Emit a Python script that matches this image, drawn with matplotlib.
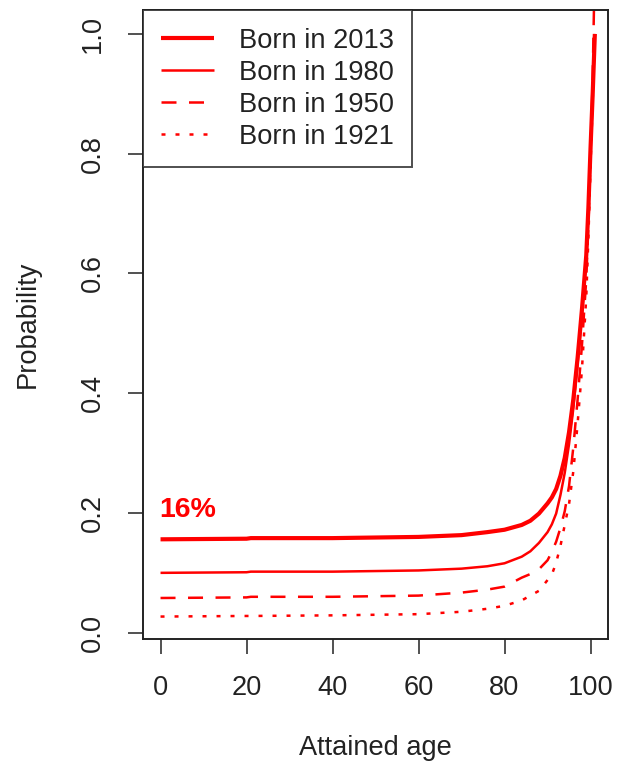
import matplotlib
matplotlib.use('Agg')
import matplotlib.pyplot as plt

plt.rcParams['font.family'] = ['Liberation Sans', 'DejaVu Sans']

# Attained age grid and probability by birth cohort
ages = [0, 20, 21, 40, 50, 60, 70, 76, 80, 84, 86, 88, 90, 91, 92, 93,
        94, 95, 96, 97, 98, 99, 99.5, 100, 100.5, 101]
born_2013 = [0.156, 0.157, 0.158, 0.158, 0.159, 0.160, 0.163, 0.168, 0.172, 0.180,
             0.187, 0.199, 0.216, 0.226, 0.240, 0.262, 0.292, 0.335, 0.390, 0.46,
             0.54, 0.63, 0.71, 0.81, 0.90, 1.00]
born_1980 = [0.100, 0.101, 0.102, 0.102, 0.103, 0.104, 0.107, 0.111, 0.116, 0.127,
             0.136, 0.150, 0.168, 0.181, 0.199, 0.230, 0.267, 0.315, 0.375, 0.45,
             0.53, 0.62, 0.70, 0.80, 0.90, 1.00]
born_1950 = [0.058, 0.059, 0.060, 0.060, 0.061, 0.062, 0.067, 0.072, 0.077, 0.092,
             0.098, 0.106, 0.121, 0.135, 0.152, 0.175, 0.203, 0.245, 0.31, 0.39,
             0.48, 0.59, 0.68, 0.79, 0.93, 1.12]
born_1921 = [0.027, 0.028, 0.028, 0.029, 0.030, 0.031, 0.035, 0.040, 0.045, 0.054,
             0.062, 0.070, 0.088, 0.097, 0.117, 0.145, 0.180, 0.215, 0.27, 0.35,
             0.44, 0.56, 0.66, 0.78, 0.89, 1.00]

x_ticks = [0, 20, 40, 60, 80, 100]
y_ticks = [0.0, 0.2, 0.4, 0.6, 0.8, 1.0]

fig = plt.figure(figsize=(6.17, 7.62), dpi=100)
ax = fig.add_axes([0.2323, 0.1614, 0.7527, 0.8255])

ax.plot(ages, born_2013, color='red', lw=3.0, solid_capstyle='butt', label='Born in 2013')
ax.plot(ages, born_1980, color='red', lw=1.8, solid_capstyle='butt', label='Born in 1980')
ax.plot(ages, born_1950, color='red', lw=1.8, dashes=(6, 5), dash_capstyle='butt',
        label='Born in 1950')
ax.plot(ages, born_1921, color='red', lw=1.8, dashes=(1.6, 4), dash_capstyle='butt',
        label='Born in 1921')

# share at birth for the youngest cohort
ax.text(-0.3, 0.193, f"{born_2013[0] * 100:.0f}%", color='red', fontsize=20.5,
        fontweight='bold', ha='left', va='baseline')

ax.set_xlim(-4.0, 104.0)
ax.set_ylim(-0.0105, 1.040)
ax.set_xticks(x_ticks)
ax.set_yticks(y_ticks)
ax.set_xticklabels([str(t) for t in x_ticks])
ax.set_yticklabels([f"{t:.1f}" for t in y_ticks], rotation=90, va='center')

fs = 19.6
ax.tick_params(axis='both', length=11, width=1.1, labelsize=fs, color='#222222',
               labelcolor='#222222')
ax.tick_params(axis='x', pad=15)
ax.tick_params(axis='y', pad=16)
for s in ax.spines.values():
    s.set_linewidth(1.4)
    s.set_color('#222222')

ax.set_xlabel('Attained age', fontsize=fs, color='#222222')
ax.set_ylabel('Probability', fontsize=fs, color='#222222')
ax.xaxis.label.set_va('center')
ax.yaxis.label.set_va('center')
ax.xaxis.set_label_coords(0.5, -0.1733)
ax.yaxis.set_label_coords(-0.248, 0.5)

leg = ax.legend(loc='upper left', bbox_to_anchor=(0, 1), borderaxespad=0,
                fontsize=fs, frameon=True, fancybox=False, borderpad=0.65,
                labelspacing=0.22, handlelength=1.96, handletextpad=0.9)
leg.get_frame().set_edgecolor('#222222')
leg.get_frame().set_linewidth(1.4)
for t in leg.get_texts():
    t.set_color('#222222')

fig.savefig('out.png', dpi=100)
